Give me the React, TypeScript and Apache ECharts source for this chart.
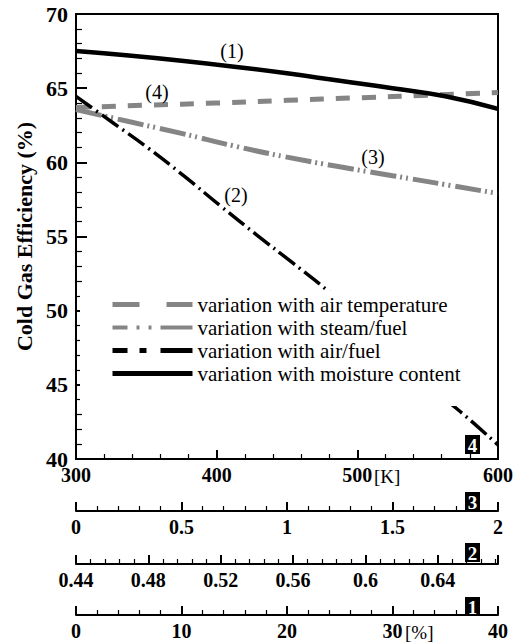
import React, { useEffect, useRef } from "react";
import * as echarts from "echarts";

// Series (4): variation with air temperature  [K]
const airTempX = [300, 350, 400, 450, 500, 550, 600];
const airTempY = [63.7, 63.85, 64.0, 64.18, 64.35, 64.52, 64.7];
// Series (3): variation with steam/fuel
const steamX = [0, 0.25, 0.5, 0.75, 1.0, 1.25, 1.5, 1.75, 2.0];
const steamY = [63.55, 62.75, 61.95, 61.1, 60.35, 59.7, 59.1, 58.5, 57.9];
// Series (2): variation with air/fuel
const airFuelX = [0.44, 0.46, 0.48, 0.5, 0.52, 0.54, 0.56, 0.58, 0.6, 0.62, 0.64, 0.66, 0.6733];
const airFuelY = [64.45, 62.7, 60.95, 59.05, 57.05, 55.1, 53.2, 51.25, 49.0, 46.75, 44.5, 42.4, 40.95];
// Series (1): variation with moisture content [%]
const moistX = [0, 5, 10, 15, 20, 25, 30, 35, 40];
const moistY = [67.5, 67.2, 66.85, 66.45, 66.0, 65.5, 65.0, 64.45, 63.6];

const seriesNames = [
  "variation with air temperature",
  "variation with steam/fuel",
  "variation with air/fuel",
  "variation with moisture content",
];
const curveTags = ["(1)", "(2)", "(3)", "(4)"];
const axisTags = ["4", "3", "2", "1"];
const unitTags = ["[K]", "[%]"];

const SERIF = '"Liberation Serif", "Times New Roman", serif';
const GRAY = "#858585";

function zip(xs: number[], ys: number[]) {
  return xs.map((x, i) => [x, ys[i]]);
}

function makeXAxis(min: number, max: number, interval: number, offset: number, minorSplit: number, extra: any = {}) {
  return {
    type: "value",
    gridIndex: 0,
    position: "bottom",
    offset,
    min,
    max,
    interval,
    axisLine: { show: true, onZero: false, lineStyle: { color: "#000", width: 2 } },
    axisTick: { show: true, inside: true, length: 9, lineStyle: { color: "#000", width: 2 } },
    minorTick: { show: true, splitNumber: minorSplit, length: 5, lineStyle: { color: "#000", width: 1.2 } },
    splitLine: { show: false },
    minorSplitLine: { show: false },
    axisLabel: {
      margin: 6,
      color: "#000",
      fontFamily: SERIF,
      fontWeight: "bold",
      fontSize: 20,
      ...extra,
    },
  };
}

export default function App() {
  const ref = useRef<HTMLDivElement>(null);
  useEffect(() => {
    if (!ref.current) return;
    const chart = echarts.init(ref.current, null, { renderer: "svg" });
    const hidden = { opacity: 0, borderWidth: 0 };
    const option: any = {
      animation: false,
      backgroundColor: "#fff",
      grid: {
        left: 76,
        top: 14,
        right: 17,
        bottom: 184,
        show: true,
        borderColor: "#000",
        borderWidth: 2,
        backgroundColor: "transparent",
      },
      xAxis: [
        makeXAxis(300, 600, 100, 0, 5),
        makeXAxis(0, 2, 0.5, 52, 5),
        makeXAxis(0.44, 0.6733, 0.04, 105, 5, { showMaxLabel: false }),
        makeXAxis(0, 40, 10, 156, 5),
      ],
      yAxis: {
        type: "value",
        min: 40,
        max: 70,
        interval: 5,
        name: "Cold Gas Efficiency (%)",
        nameLocation: "middle",
        nameGap: 40,
        nameTextStyle: { color: "#000", fontFamily: SERIF, fontWeight: "bold", fontSize: 22 },
        axisLine: { show: true, lineStyle: { color: "#000", width: 2 } },
        axisTick: { show: true, inside: true, length: 11, lineStyle: { color: "#000", width: 2 } },
        minorTick: { show: true, splitNumber: 5, length: 6, lineStyle: { color: "#000", width: 1.2 } },
        splitLine: { show: false },
        axisLabel: { margin: 8, color: "#000", fontFamily: SERIF, fontWeight: "bold", fontSize: 22 },
      },
      legend: {
        orient: "vertical",
        left: 80,
        top: 291,
        padding: [3, 10, 22, 30],
        backgroundColor: "#fff",
        itemWidth: 80,
        itemHeight: 14,
        itemGap: 2,
        selectedMode: false,
        itemStyle: hidden,
        textStyle: { color: "#000", fontFamily: SERIF, fontSize: 21, lineHeight: 21 },
        data: [
          { name: seriesNames[0], itemStyle: hidden, lineStyle: { type: [27, 27, 27, 100], width: 5 } },
          { name: seriesNames[1], itemStyle: hidden, lineStyle: { type: [15, 9, 3, 9, 3, 9, 32, 100], width: 4 } },
          { name: seriesNames[2], itemStyle: hidden, lineStyle: { type: [15, 12, 7, 14, 32, 100], width: 5 } },
          { name: seriesNames[3], itemStyle: hidden, lineStyle: { width: 5 } },
        ],
      },
      series: [
        {
          name: seriesNames[0],
          type: "line",
          xAxisIndex: 0,
          data: zip(airTempX, airTempY),
          smooth: true,
          symbol: "none",
          lineStyle: { color: GRAY, width: 5, type: [14, 12] },
          itemStyle: { color: GRAY },
        },
        {
          name: seriesNames[1],
          type: "line",
          xAxisIndex: 1,
          data: zip(steamX, steamY),
          smooth: true,
          symbol: "none",
          lineStyle: { color: GRAY, width: 5, type: [26, 4, 2, 4, 2, 5] },
          itemStyle: { color: GRAY },
        },
        {
          name: seriesNames[2],
          type: "line",
          xAxisIndex: 2,
          data: zip(airFuelX, airFuelY),
          smooth: true,
          symbol: "none",
          lineStyle: { color: "#000", width: 3.5, type: [20, 5, 2, 5] },
          itemStyle: { color: "#000" },
        },
        {
          name: seriesNames[3],
          type: "line",
          xAxisIndex: 3,
          data: zip(moistX, moistY),
          smooth: true,
          symbol: "none",
          lineStyle: { color: "#000", width: 4.5 },
          itemStyle: { color: "#000" },
        },
      ],
      graphic: [
        ...[
          [232, 51],
          [236, 195],
          [373, 157],
          [157, 92],
        ].map((p, i) => ({
          type: "text",
          x: p[0],
          y: p[1],
          z: 10,
          style: {
            text: curveTags[i],
            fill: "#000",
            fontFamily: SERIF,
            fontSize: 20,
            align: "center",
            verticalAlign: "middle",
            textAlign: "center",
            textVerticalAlign: "middle",
          },
        })),
        ...[435, 492, 543, 597].flatMap((y, i) => [
          { type: "rect", z: 10, shape: { x: 465, y, width: 15, height: 19 }, style: { fill: "#000" } },
          {
            type: "text",
            z: 11,
            x: 472.5,
            y: y + 10,
            style: {
              text: axisTags[i],
              fill: "#fff",
              fontFamily: SERIF,
              fontWeight: "bold",
              fontSize: 19,
              align: "center",
              verticalAlign: "middle",
              textAlign: "center",
              textVerticalAlign: "middle",
            },
          },
        ]),
        ...[
          [374, 476],
          [405, 632],
        ].map((p, i) => ({
          type: "text",
          x: p[0],
          y: p[1],
          z: 10,
          style: {
            text: unitTags[i],
            fill: "#000",
            fontFamily: SERIF,
            fontSize: 19,
            align: "left",
            verticalAlign: "middle",
            textAlign: "left",
            textVerticalAlign: "middle",
          },
        })),
      ],
    };
    chart.setOption(option);
    return () => chart.dispose();
  }, []);
  return (
    <div
      ref={ref}
      style={{ position: "fixed", left: 0, top: 0, width: 516, height: 643, background: "#fff" }}
    />
  );
}
